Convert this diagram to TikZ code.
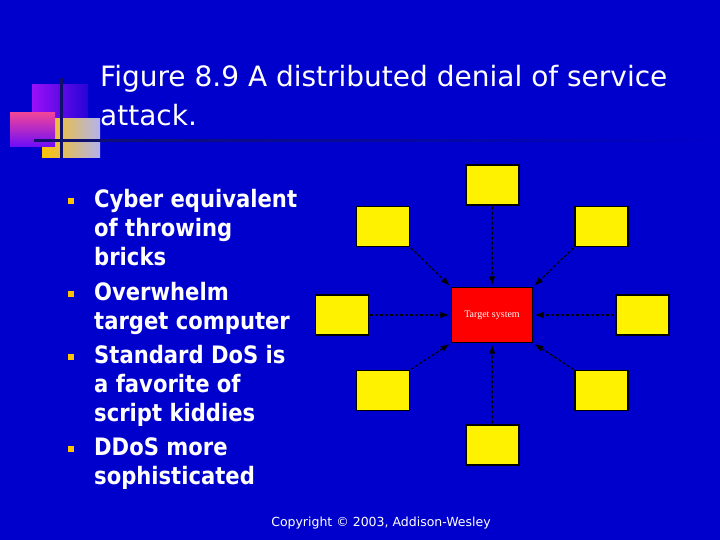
\documentclass[tikz,border=0pt]{standalone}
\usepackage{fontspec}
\setmainfont{DejaVu Sans}
\newfontfamily\titlefont{DejaVu Sans}
\newfontfamily\pointfont[FakeStretch=0.88]{DejaVu Sans}
\newfontfamily\figfont{Liberation Serif}
\usetikzlibrary{arrows.meta}
\definecolor{slideblue}{HTML}{0000CC}
\definecolor{bulletgold}{HTML}{FFC400}
\definecolor{logonavy}{HTML}{10106A}
\definecolor{logopink}{HTML}{F0449A}
\definecolor{logoviolet}{HTML}{9A10F8}
\tikzset{
  zombie/.style={draw=black, line width=1.2pt, fill=yellow, minimum width=53pt, minimum height=40pt, inner sep=0pt},
  victim/.style={draw=black, line width=1.2pt, fill=red, minimum width=81pt, minimum height=55pt, inner sep=0pt,
    text=white!92!pink, font=\figfont\fontsize{10}{12}\selectfont},
  flood/.style={draw=black, dash pattern=on 3pt off 2pt, line width=1.2pt, -{Latex[length=9pt,width=6.5pt]},
    shorten >=1.5pt, shorten <=1pt},
  bulletbox/.style={fill=bulletgold, minimum size=6pt, inner sep=0pt},
  pointtext/.style={anchor=base west, align=left, inner sep=0pt, text=white,
    font=\pointfont\bfseries\fontsize{24}{29}\selectfont}
}
\begin{document}
\begin{tikzpicture}[x=1pt,y=-1pt]
\useasboundingbox (0,0) rectangle (720,540);
\fill[slideblue] (0,0) rectangle (720,540);

% logo
\shade[left color=logoviolet, right color=slideblue!75!logoviolet] (32,85) rectangle (88,127);
\shade[left color=bulletgold, right color=slideblue!30!white] (42,119) rectangle (100,158);
\shade[shading angle=135, top color=logopink, bottom color=logoviolet!70!blue] (10,113) rectangle (55,147);
\fill[logonavy] (60,78) rectangle (62.5,158);
\shade[left color=logonavy, right color=slideblue] (34,140) rectangle (720,142);

% title (base = last line)
\node[anchor=base west, align=left, inner sep=0pt, text=white, font=\titlefont\fontsize{28}{39}\selectfont]
  (title) at (100,126) {Figure 8.9 A distributed denial of service\\attack.};

% bullets
\node[bulletbox] (b1) at (71,201) {};
\node[pointtext] (p1) at (94,265) {Cyber equivalent\\of throwing\\bricks};
\node[bulletbox] (b2) at (71,294) {};
\node[pointtext] (p2) at (94,329) {Overwhelm\\target computer};
\node[bulletbox] (b3) at (71,357) {};
\node[pointtext] (p3) at (94,421) {Standard DoS is\\a favorite of\\script kiddies};
\node[bulletbox] (b4) at (71,449) {};
\node[pointtext] (p4) at (94,484) {DDoS more\\sophisticated};

% attack figure
\node[victim] (tgt) at (492,315) {Target system};
\node[zombie] (zn) at (492.5,185) {};
\node[zombie] (znw) at (383,226.5) {};
\node[zombie] (zne) at (601.5,226.5) {};
\node[zombie] (zw) at (342,315) {};
\node[zombie] (ze) at (642.5,315) {};
\node[zombie] (zsw) at (383,390.5) {};
\node[zombie] (zse) at (601.5,390.5) {};
\node[zombie] (zs) at (492.5,445) {};

\draw[flood] (zn) -- (tgt);
\draw[flood] (zs) -- (tgt);
\draw[flood] (zw) -- (tgt);
\draw[flood] (ze) -- (tgt);
\draw[flood] (znw.south east) -- (tgt.north west);
\draw[flood] (zne.south west) -- (tgt.north east);
\draw[flood] (zsw.north east) -- (tgt.south west);
\draw[flood] (zse.north west) -- (tgt.south east);

% footer
\node[text=white, inner sep=0pt, font=\titlefont\fontsize{12.5}{15}\selectfont] (copy) at (381,523)
  {Copyright \textcopyright{} 2003, Addison-Wesley};
\end{tikzpicture}
\end{document}
